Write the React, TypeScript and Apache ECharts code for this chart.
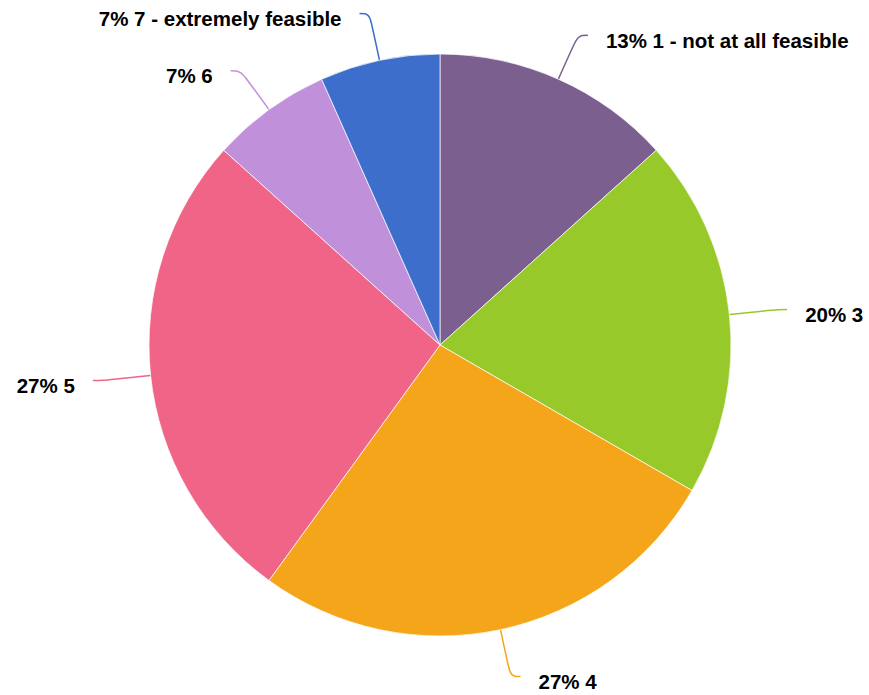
import React, { useEffect, useRef } from "react";
import * as echarts from "echarts";

const categories = ["1 - not at all feasible", "3", "4", "5", "6", "7 - extremely feasible"];
const counts = [2, 3, 4, 4, 1, 1];
const colors = ["#7B5F8E", "#97C92A", "#F5A51A", "#F06587", "#C091DA", "#3D6ECC"];

export default function App() {
  const ref = useRef<HTMLDivElement>(null);
  useEffect(() => {
    if (!ref.current) return;
    const chart = echarts.init(ref.current, undefined, { renderer: "svg" });
    const total = counts.reduce((a, b) => a + b, 0);
    chart.setOption({
      animation: false,
      color: colors,
      series: [
        {
          type: "pie",
          center: [440, 345],
          radius: 291,
          startAngle: 90,
          clockwise: true,
          avoidLabelOverlap: false,
          itemStyle: { borderColor: "rgba(255,255,255,0.7)", borderWidth: 1 },
          label: {
            show: true,
            position: "outer",
            formatter: (p: any) => `${Math.round((p.value / total) * 100)}% ${p.name}`,
            fontFamily: "Liberation Sans, Arial, sans-serif",
            fontWeight: "bold",
            fontSize: 20.5,
            color: "#000",
            distanceToLabelLine: 18,
            offset: [0, 5],
          },
          labelLine: {
            show: true,
            length: 48,
            length2: 10,
            smooth: 0.4,
            lineStyle: { width: 1.5 },
          },
          emphasis: { disabled: true },
          data: categories.map((c, i) => ({ name: c, value: counts[i] })),
        },
      ],
    });
    return () => chart.dispose();
  }, []);
  return (
    <div
      ref={ref}
      style={{ position: "absolute", left: 0, top: 0, width: 869, height: 695, background: "#fff" }}
    />
  );
}
